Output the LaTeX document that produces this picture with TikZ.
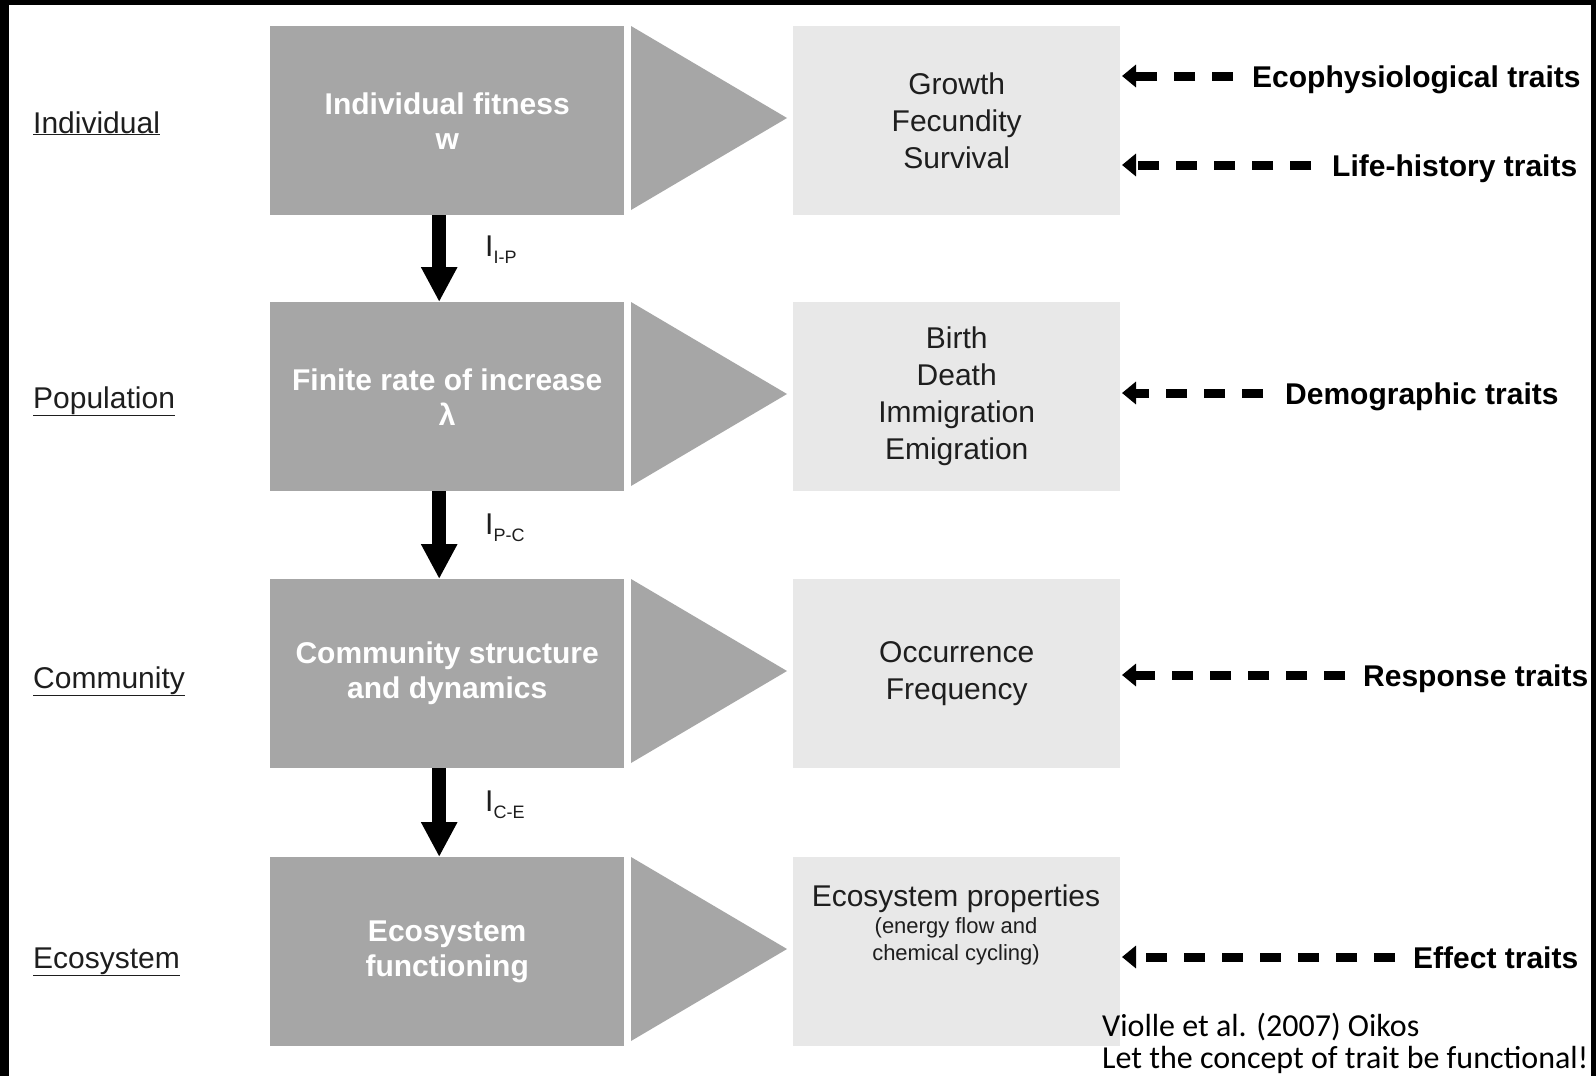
\documentclass[tikz,border=0pt]{standalone}
\usepackage{fontspec}
\setmainfont{Liberation Sans}
\newfontfamily\calfont{Carlito}
\usetikzlibrary{arrows.meta}
\definecolor{darkbox}{HTML}{A6A6A6}
\definecolor{lightbox}{HTML}{E8E8E8}
\definecolor{txtgray}{HTML}{1E1E1E}
\tikzset{
 dbox/.style={fill=darkbox, minimum width=354pt, minimum height=189pt, inner sep=0pt, text=white,
   font=\fontsize{30}{35}\selectfont\bfseries, align=center, anchor=north west},
 lbox/.style={fill=lightbox, minimum width=327pt, minimum height=189pt, inner sep=0pt, text=txtgray,
   font=\fontsize{30}{37}\selectfont, align=center, anchor=north west},
 level/.style={font=\fontsize{30}{36}\selectfont, text=txtgray, anchor=base west, inner sep=0pt},
 trait/.style={font=\fontsize{30}{36}\selectfont\bfseries, text=black, anchor=base west, inner sep=0pt},
 bigarrow/.style={line width=14pt, -{Triangle[length=35pt,width=34pt]}},
 dasharrow/.style={line width=9pt, dash pattern=on 21pt off 17pt, -{Triangle[length=14pt,width=22pt]}},
 ilabel/.style={font=\fontsize{30}{36}\selectfont, text=txtgray, anchor=base west, inner sep=0pt},
 reftext/.style={font=\calfont\fontsize{32}{32}\selectfont, text=black, anchor=base west, inner sep=0pt},
}
\newcommand{\ilab}[1]{I\raisebox{-7pt}{\fontsize{18}{18}\selectfont #1}}
\begin{document}
\begin{tikzpicture}[x=1pt,y=-1pt]
\useasboundingbox (0,0) rectangle (1596,1076);
\fill[white] (0,0) rectangle (1596,1076);
% black frame strips
\fill[black] (0,0) rectangle (9,1076);
\fill[black] (0,0) rectangle (1596,5);

% level labels
\node[level] (lv1) at (33,133) {\underline{Individual}};
\node[level] (lv2) at (33,408) {\underline{Population}};
\node[level] (lv3) at (33,688) {\underline{Community}};
\node[level] (lv4) at (33,968) {\underline{Ecosystem}};

% dark boxes
\node[dbox] (d1) at (270,26) {Individual fitness\\w};
\node[dbox] (d2) at (270,302) {Finite rate of increase\\λ};
\node[dbox] (d3) at (270,579) {Community structure\\and dynamics};
\node[dbox] (d4) at (270,857) {Ecosystem\\functioning};

% triangles
\fill[darkbox] (631,26) -- (787,118) -- (631,210) -- cycle;
\fill[darkbox] (631,302) -- (787,394) -- (631,486) -- cycle;
\fill[darkbox] (631,579) -- (787,671) -- (631,763) -- cycle;
\fill[darkbox] (631,857) -- (787,949) -- (631,1041) -- cycle;

% light boxes
\node[lbox] (l1) at (793,26) {Growth\\Fecundity\\Survival};
\node[lbox] (l2) at (793,302) {Birth\\Death\\Immigration\\Emigration};
\node[lbox] (l3) at (793,579) {Occurrence\\Frequency};
\node[lbox] (l4) at (793,857) {};
\node[font=\fontsize{30}{36}\selectfont, text=txtgray, inner sep=0pt] (ep1) at (956,899) {Ecosystem properties};
\node[font=\fontsize{22}{27}\selectfont, text=txtgray, inner sep=0pt, align=center] (ep2) at (956,941) {(energy flow and\\chemical cycling)};

% vertical arrows
\draw[bigarrow] ([xshift=-8pt]d1.south) -- ([xshift=-8pt]d2.north);
\draw[bigarrow] ([xshift=-8pt]d2.south) -- ([xshift=-8pt]d3.north);
\draw[bigarrow] ([xshift=-8pt]d3.south) -- ([xshift=-8pt]d4.north);
\node[ilabel] (i1) at (485,256) {\ilab{I-P}};
\node[ilabel] (i2) at (485,534) {\ilab{P-C}};
\node[ilabel] (i3) at (485,811) {\ilab{C-E}};

% trait labels
\node[trait] (t1) at (1252,87) {Ecophysiological traits};
\node[trait] (t2) at (1332,176) {Life-history traits};
\node[trait] (t3) at (1285,404) {Demographic traits};
\node[trait] (t4) at (1363,686) {Response traits};
\node[trait] (t5) at (1413,968) {Effect traits};

\coordinate (s1) at (1233,76);  \coordinate (e1) at (1122,76);
\coordinate (s2) at (1311,165); \coordinate (e2) at (1122,165);
\coordinate (s3) at (1263,393); \coordinate (e3) at (1122,393);
\coordinate (s4) at (1345,675); \coordinate (e4) at (1122,675);
\coordinate (s5) at (1395,957); \coordinate (e5) at (1122,957);
\draw[dasharrow] (s1) -- (e1);
\draw[dasharrow] (s2) -- (e2);
\draw[dasharrow] (s3) -- (e3);
\draw[dasharrow] (s4) -- (e4);
\draw[dasharrow] (s5) -- (e5);

% reference
\node[reftext] (r1) at (1102,1036) {Violle et al. (2007) Oikos};
\node[reftext] (r2) at (1102,1068) {Let the concept of trait be functional!};
% right frame strip drawn over text overflow
\fill[black] (1591,0) rectangle (1596,1076);
\end{tikzpicture}
\end{document}
